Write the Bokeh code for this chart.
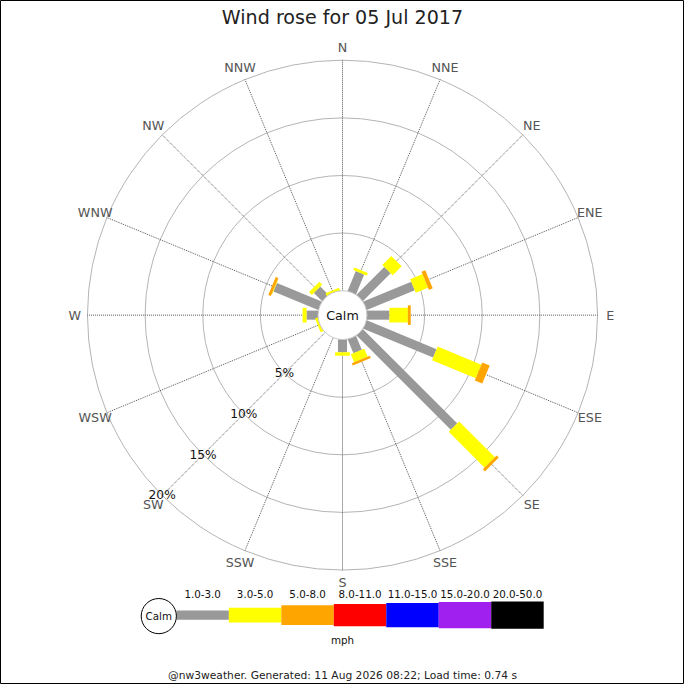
import numpy as np
from bokeh.plotting import figure
from bokeh.models import Range1d
from bokeh.core.properties import value
from bokeh.embed import file_html
from bokeh.resources import INLINE

# --- data: percentage of the day, per direction and speed band (mph) ---
directions = ["N", "NNE", "NE", "ENE", "E", "ESE", "SE", "SSE",
              "S", "SSW", "SW", "WSW", "W", "WNW", "NW", "NNW"]
band_1_3 = [0.0, 1.85, 3.4, 4.5, 1.95, 6.55, 11.55, 1.3,
            1.1, 0.0, 0.0, 0.0, 1.0, 4.2, 1.0, 0.0]
band_3_5 = [0.0, 0.25, 1.1, 1.15, 1.6, 4.1, 4.4, 0.75,
            0.3, 0.0, 0.0, 0.2, 0.35, 0.05, 0.35, 0.2]
band_5_8 = [0.0, 0.0, 0.0, 0.35, 0.25, 0.7, 0.25, 0.2,
            0.0, 0.0, 0.0, 0.0, 0.0, 0.25, 0.0, 0.0]
speed_bands = ["1.0-3.0", "3.0-5.0", "5.0-8.0", "8.0-11.0",
               "11.0-15.0", "15.0-20.0", "20.0-50.0"]
band_colors = ["#999999", "#ffff00", "#ffa500", "#ff0000",
               "#0000ff", "#a020f0", "#000000"]
ring_values = [5, 10, 15, 20]
title = "Wind rose for 05 Jul 2017"
footer = "@nw3weather. Generated: 11 Aug 2026 08:22; Load time: 0.74 s"

# --- geometry (in the 700px frame of the original image) ---
S = 684 / 700.0          # canvas is 684px, drawn in a 700-unit frame
CX, CY = 350, 322
CALM_R = 25
PX_PER_PCT = 11.8
LABEL_R = 274
BAR_W = [9.3, 15, 20, 23, 25, 27, 28]
FONT = value("DejaVu Sans")


def r_of(pct):
    return CALM_R + pct * PX_PER_PCT


def fs(px):
    return value("%.1fpx" % (px * S))


p = figure(width=684, height=684, output_backend="svg", toolbar_location=None,
           x_range=Range1d(0, 700), y_range=Range1d(700, 0),
           x_axis_type=None, y_axis_type=None, min_border=0,
           background_fill_color="white")
p.outline_line_color = "black"
p.outline_line_width = 1

theta = np.deg2rad(np.arange(len(directions)) * 22.5)
ux, uy = np.sin(theta), -np.cos(theta)
vx, vy = np.cos(theta), np.sin(theta)

# rings and spokes
rings_r = [r_of(v) for v in ring_values]
p.circle([CX] * len(rings_r), [CY] * len(rings_r), radius=rings_r,
         fill_color=None, line_color="#b4b4b4", line_width=1)
p.segment(CX + CALM_R * ux, CY + CALM_R * uy,
          CX + rings_r[-1] * ux, CY + rings_r[-1] * uy,
          line_color="#555555", line_dash="1 1", line_width=1)

# stacked bars
xs, ys, cols = [], [], []
start = np.zeros(len(directions))
for j, vals in enumerate([band_1_3, band_3_5, band_5_8]):
    w = BAR_W[j] / 2
    for i, pct in enumerate(vals):
        if pct <= 0:
            continue
        r0 = r_of(start[i]) if start[i] > 0 else CALM_R - 4
        r1 = r_of(start[i] + pct)
        bx = CX + np.array([r0, r1, r1, r0]) * ux[i] + np.array([w, w, -w, -w]) * vx[i]
        by = CY + np.array([r0, r1, r1, r0]) * uy[i] + np.array([w, w, -w, -w]) * vy[i]
        xs.append(list(bx))
        ys.append(list(by))
        cols.append(band_colors[j])
        start[i] += pct
p.patches(xs, ys, fill_color=cols, line_color=None)

# calm circle
p.circle([CX], [CY], radius=CALM_R, fill_color="white", line_color="#c8c8c8")
p.text([CX], [CY], text=["Calm"], text_align="center", text_baseline="middle",
       text_font=FONT, text_font_size=fs(13), text_color="#111111")

# compass labels
p.text(CX + LABEL_R * ux, CY + LABEL_R * uy, text=directions,
       text_align="center", text_baseline="middle", text_font=FONT,
       text_font_size=fs(13), text_color="#555555")

# ring labels along SW
sw = np.deg2rad(225)
p.text([CX + r * np.sin(sw) for r in rings_r], [CY - r * np.cos(sw) for r in rings_r],
       text=["%d%%" % v for v in ring_values], text_align="center",
       text_baseline="middle", text_font=FONT, text_font_size=fs(12.5),
       text_color="#111111")

# title and footer
p.text([CX], [17], text=[title], text_align="center", text_baseline="middle",
       text_font=FONT, text_font_size=fs(19.5), text_color="#222222")
p.text([CX], [691], text=[footer], text_align="center", text_baseline="middle",
       text_font=FONT, text_font_size=fs(11), text_color="#222222")

# legend
LX0, LSTEP, LY = 180, 53.7, 629
lefts = [LX0 + k * LSTEP for k in range(len(speed_bands))]
p.quad(left=lefts, right=[l + LSTEP for l in lefts],
       top=[LY - h / 2 for h in BAR_W], bottom=[LY + h / 2 for h in BAR_W],
       fill_color=band_colors, line_color=None)
p.text([l + LSTEP / 2 for l in lefts], [607] * len(lefts), text=speed_bands,
       text_align="center", text_baseline="middle", text_font=FONT,
       text_font_size=fs(10.5), text_color="#111111")
p.circle([162], [630], radius=18, fill_color="white", line_color="black")
p.text([162], [630], text=["Calm"], text_align="center", text_baseline="middle",
       text_font=FONT, text_font_size=fs(10.5), text_color="#111111")
p.text([CX], [654], text=["mph"], text_align="center", text_baseline="middle",
       text_font=FONT, text_font_size=fs(10.5), text_color="#111111")

open("out.html", "w").write(file_html(p, INLINE))
